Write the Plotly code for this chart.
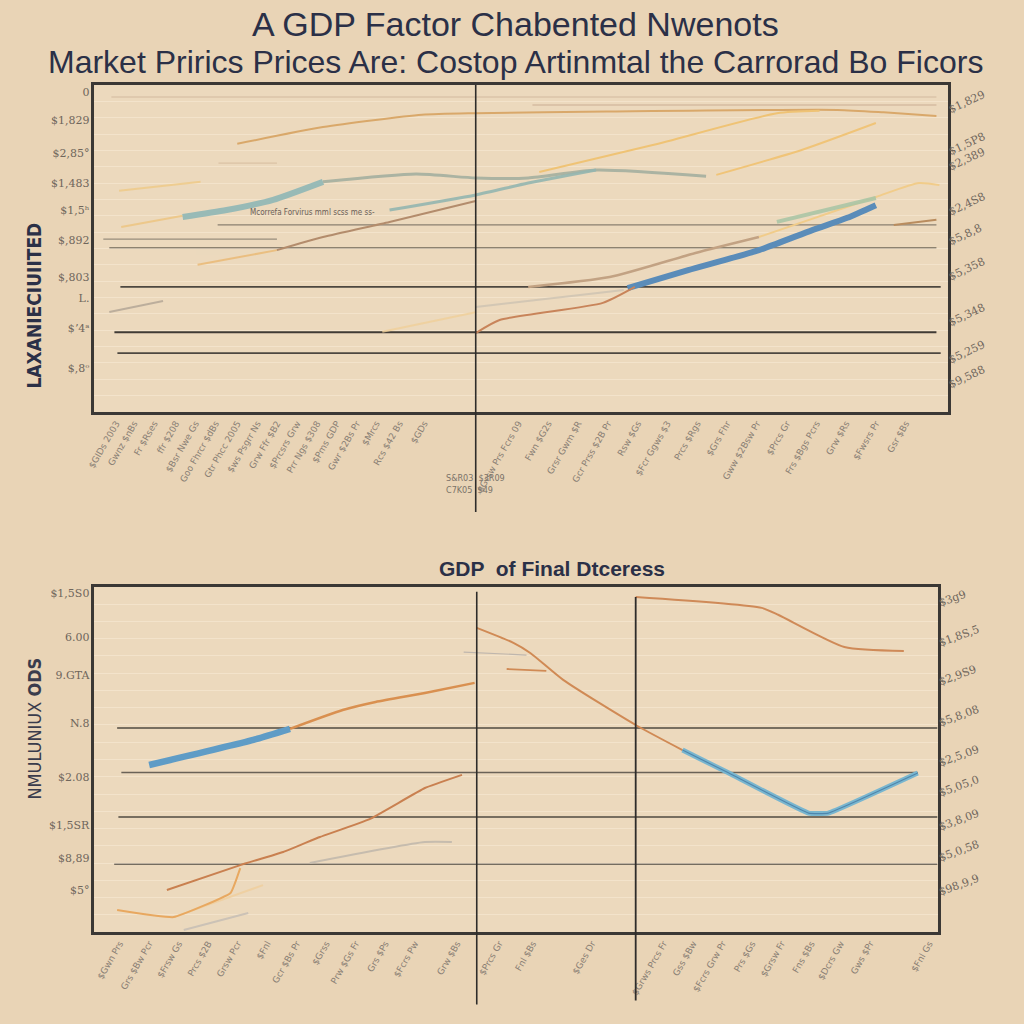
import plotly.graph_objects as go

BG = "#e9d4b6"
PLOT_BG = "#ecd9bd"
NAVY = "#2b3047"
TICK_C = "#6f665c"

# ---------------- top panel data (x: year offset, y: value) ----------------
t_gold_top_x = [3.35, 5.36, 7.68, 8.94, 12.0, 17.42, 18.5, 19.74]
t_gold_top_y = [656, 697, 727, 731, 735, 739, 733, 724]
t_faint_top_x = [10.27, 19.74]
t_faint_top_y = [751, 751]
t_yel_left_x = [0.58, 2.49]
t_yel_left_y = [541, 563]
t_faint2_x = [2.91, 4.28]
t_faint2_y = [609, 609]
t_teal_thick_x = [2.07, 3.1, 4.19, 5.36]
t_teal_thick_y = [477, 494, 519, 563]
t_graygreen_x = [5.36, 7.54, 8.94, 10.17, 11.76, 14.34]
t_graygreen_y = [563, 582, 572.5, 572.5, 592, 577]
t_yel2_x = [0.63, 2.07]
t_yel2_y = [452.6, 480]
t_teal_thin_x = [6.92, 8.94, 10.17, 11.76]
t_teal_thin_y = [494, 531, 560, 592]
t_brown_x = [4.28, 5.36, 6.92, 8.94]
t_brown_y = [396, 428, 465, 516]
t_yel3_x = [2.42, 4.28]
t_yel3_y = [360, 396]
t_gold1_x = [10.43, 13.09, 16.0, 17.0]
t_gold1_y = [587, 653, 731, 737]
t_gold2_x = [14.58, 16.58, 18.32]
t_gold2_y = [580, 641, 707]
t_blue_x = [12.5, 13.92, 15.58, 16.83, 17.65, 18.32]
t_blue_y = [303, 347, 396, 445, 475, 506]
t_tan_x = [10.17, 12.08, 14.09, 15.58]
t_tan_y = [306, 330, 389, 428]
t_yel_right_x = [15.58, 18.32, 19.33, 19.81]
t_yel_right_y = [428, 526, 560, 555]
t_green_x = [16.0, 18.32]
t_green_y = [465, 523.5]
t_orange_low_x = [8.94, 9.5, 11.92, 12.67]
t_orange_low_y = [193, 225, 267, 306]
t_faintgray_x = [8.94, 12.41]
t_faintgray_y = [257, 298.5]
t_faintyel_x = [6.75, 8.94]
t_faintyel_y = [196, 244]
t_brown_right_x = [18.74, 19.74]
t_brown_right_y = [457.5, 470]
t_gray_left_x = [0.35, 1.61]
t_gray_left_y = [244.7, 271.6]

top_hline_y = [770.6, 457.5, 423, 401, 306, 195, 144]
top_hline_x0 = [0.4, 2.89, 0.21, 0.35, 0.61, 0.47, 0.54]
top_hline_x1 = [19.74, 19.74, 4.28, 19.74, 19.84, 19.74, 19.84]
top_hline_color = ["#d2b99e", "#8a7f70", "#978c7c", "#6e6456", "#4d4740", "#403b36", "#4d4740"]
top_hline_width = [1, 1.2, 1.2, 1.6, 1.6, 1.8, 1.6]
top_vline_x = 8.94

top_left_tickvals = [783, 714, 634, 560, 494, 421, 330, 279, 205.5, 108]
top_left_ticktext = ["0", "$1,829", "$2,85°", "$1,483", "$1,5ʰ", "$,892", "$,803", "L.", "$ʼ4ᵃ", "$,8ᵒ"]
top_right_tickvals = [739, 636, 599, 489, 416, 330, 218, 127, 66]
top_right_ticktext = ["$1,829", "$1,5P8", "$2,389", "$2,4S8", "$5,8,8", "$5,358", "$5,348", "$5,259", "$9,588"]
top_x_tickvals = [0.51, 0.93, 1.40, 1.91, 2.37, 2.84, 3.35, 3.82, 4.28, 4.75, 5.22, 5.68, 6.15, 6.61, 7.15, 7.73,
                  9.94, 10.64, 11.34, 12.04, 12.74, 13.43, 14.13, 14.83, 15.53, 16.23, 16.93, 17.62, 18.32, 19.02]
top_x_ticktext = ["$GIDs 2003", "Gwnz $nBs", "Fr $Rses", "ffr $208", "$Bsr Nwe Gs", "Goo Fhrcr $dBs",
                  "Gtr Phcc 2005", "$ws Psgrr Ns", "Grw Ffr $B2", "$Prcsrs Grw", "Prr Ngs $308",
                  "$Pms GDP", "Gwr $2Bs Pr", "$Mrcs", "Rcs $42 Bs", "$GDs",
                  "$Grsw Prs Fcrs 09", "Fwn $G2s", "Grsr Gwm $R", "Gcr Prss $2B Pr", "Rsw $Gs",
                  "$Fcr Ggws $3", "Prcs $Rgs", "$Grs Fhr", "Gww $2Bsw Pr", "$Prcs Gr",
                  "Frs $Bgs Pcrs", "Grw $Rs", "$Fwsrs Pr", "Gsr $Bs"]

# ---------------- bottom panel data ----------------
b_blue_x = [1.30, 3.77, 4.64]
b_blue_y = [726, 835, 883]
b_orange_x = [4.64, 5.89, 6.67, 7.84, 9.02]
b_orange_y = [883, 965, 1000, 1039, 1083]
b_orange_low_x = [1.72, 3.46, 4.48, 5.35, 6.53, 7.84, 8.72]
b_orange_low_y = [183, 291, 348, 413, 491, 626, 683]
b_yelor_x = [0.54, 1.88, 3.23, 3.46]
b_yelor_y = [96, 65, 170, 278]
b_faintyel_x = [1.88, 4.00]
b_faintyel_y = [65, 204]
b_faintgray_x = [2.12, 3.65]
b_faintgray_y = [9, 83]
b_gray_x = [5.11, 7.84, 8.48]
b_gray_y = [300, 391, 391]
b_desc_x = [9.07, 9.94, 10.34, 11.12, 12.84, 13.95]
b_desc_y = [1322, 1257, 1213, 1096, 900, 791]
b_blue2_x = [13.95, 15.05, 16.94, 17.41, 19.53]
b_blue2_y = [791, 691, 517, 517, 691]
b_topright_x = [12.84, 15.83, 16.23, 17.79, 19.20]
b_topright_y = [1456.5, 1409, 1378, 1239, 1222]
b_faint3_x = [8.76, 10.25]
b_faint3_y = [1217, 1204]
b_short_x = [9.78, 10.72]
b_short_y = [1143.5, 1135]

bot_hline_y = [887, 693, 500, 295.6]
bot_hline_x0 = [0.54, 0.64, 0.57, 0.47]
bot_hline_x1 = [20.0, 19.53, 20.0, 20.0]
bot_hline_color = ["#514a42", "#6a6257", "#514a42", "#4d4740"]
bot_vline_x = [9.07, 12.84]

bot_left_tickvals = [1474, 1283, 1117, 909, 674, 465, 322, 183]
bot_left_ticktext = ["$1,5S0", "6.00", "9.GTA", "N.8", "$2.08", "$1,5SR", "$8,89", "$5°"]
bot_right_tickvals = [1430, 1256.5, 1087, 909, 735, 604, 456.5, 322, 174]
bot_right_ticktext = ["$3g9", "$1,8S,5", "$2,9S9", "$5,8,08", "$2,5,09", "$5,05,0", "$3,8,09", "$5,0,58", "$98,9,9"]
bot_x_tickvals = [0.6, 1.3, 2.0, 2.7, 3.4, 4.1, 4.8, 5.5, 6.2, 6.9, 7.6, 8.6,
                  9.6, 10.4, 11.8, 13.5, 14.2, 14.9, 15.6, 16.3, 17.0, 17.7, 18.4, 19.8]
bot_x_ticktext = ["$Gwn Prs", "Grs $Bw Pcr", "$Frsw Gs", "Prcs $2B", "Grsw Pcr", "$Fnl",
                  "Gcr $Bs Pr", "$Grss", "Prw $Gs Fr", "Grs $Ps", "$Fcrs Pw", "Grw $Bs",
                  "$Prcs Gr", "Fnl $Bs", "$Ges Dr", "$Grws Prcs Fr", "Gss $Bw",
                  "$Fcrs Grw Pr", "Prs $Gs", "$Grsw Fr", "Fns $Bs", "$Dcrs Gw", "Gws $Pr", "$Fnl Gs"]

top_note = "Mcorrefa Forvirus mml scss me ss-"
center_note = "S&R03  $3R09<br>C7K05  $49"

fig = go.Figure()

def add_line(x, y, color, width, xa="x", ya="y", opacity=1.0, smooth=0.6):
    fig.add_trace(go.Scatter(x=x, y=y, mode="lines", xaxis=xa, yaxis=ya,
                             line=dict(color=color, width=width, shape="spline", smoothing=smooth),
                             opacity=opacity, hoverinfo="skip", showlegend=False))

# top panel lines
add_line(t_faint_top_x, t_faint_top_y, "#c4a48a", 1.2, opacity=0.8)
add_line(t_faint2_x, t_faint2_y, "#d8bea0", 1.2, opacity=0.8)
add_line(t_gold_top_x, t_gold_top_y, "#d9a86a", 2)
add_line(t_yel_left_x, t_yel_left_y, "#efca85", 2, opacity=0.8)
add_line(t_yel2_x, t_yel2_y, "#eec47e", 2, opacity=0.8)
add_line(t_yel3_x, t_yel3_y, "#eab872", 2, opacity=0.8)
add_line(t_teal_thick_x, t_teal_thick_y, "#8fb7b6", 6, opacity=0.9)
add_line(t_graygreen_x, t_graygreen_y, "#abb3a2", 3)
add_line(t_teal_thin_x, t_teal_thin_y, "#94b6b0", 3, opacity=0.9)
add_line(t_brown_x, t_brown_y, "#b38c6c", 2)
add_line(t_gold1_x, t_gold1_y, "#efc375", 2)
add_line(t_gold2_x, t_gold2_y, "#f0c478", 2)
add_line(t_tan_x, t_tan_y, "#c2a283", 2.5)
add_line(t_yel_right_x, t_yel_right_y, "#f1cc8a", 2)
add_line(t_green_x, t_green_y, "#abc6a6", 4, opacity=0.9)
add_line(t_blue_x, t_blue_y, "#5a8cb9", 6)
add_line(t_orange_low_x, t_orange_low_y, "#c8845a", 2)
add_line(t_faintgray_x, t_faintgray_y, "#cdc3b3", 2, opacity=0.8)
add_line(t_faintyel_x, t_faintyel_y, "#f0d09a", 2, opacity=0.8)
add_line(t_brown_right_x, t_brown_right_y, "#b98c5e", 2)
add_line(t_gray_left_x, t_gray_left_y, "#bcae9c", 2)

# bottom panel lines
add_line(b_faintgray_x, b_faintgray_y, "#c8bfb5", 2, "x2", "y2", 0.9)
add_line(b_faintyel_x, b_faintyel_y, "#f0d0a0", 2, "x2", "y2", 0.9)
add_line(b_yelor_x, b_yelor_y, "#e8a860", 2, "x2", "y2", smooth=0.3)
add_line(b_orange_low_x, b_orange_low_y, "#c98050", 2, "x2", "y2", smooth=0.3)
add_line(b_gray_x, b_gray_y, "#c6bcae", 2, "x2", "y2")
add_line(b_orange_x, b_orange_y, "#d99050", 2.5, "x2", "y2")
add_line(b_blue_x, b_blue_y, "#5f9cc6", 6.5, "x2", "y2")
add_line(b_faint3_x, b_faint3_y, "#bfb6ad", 1.2, "x2", "y2")
add_line(b_short_x, b_short_y, "#d08a55", 1.8, "x2", "y2")
add_line(b_desc_x, b_desc_y, "#d08a55", 2, "x2", "y2")
add_line(b_blue2_x, b_blue2_y, "#79b6cf", 5, "x2", "y2", smooth=0.3)
add_line(b_blue2_x, b_blue2_y, "#4f86ad", 1.2, "x2", "y2", smooth=0.3)
add_line(b_topright_x, b_topright_y, "#cf8a58", 2, "x2", "y2")

# right-side label axes need a trace each
fig.add_trace(go.Scatter(x=[None], y=[None], xaxis="x", yaxis="y3", showlegend=False))
fig.add_trace(go.Scatter(x=[None], y=[None], xaxis="x2", yaxis="y4", showlegend=False))

shapes = []
for yv, x0, x1, c, w in zip(top_hline_y, top_hline_x0, top_hline_x1, top_hline_color, top_hline_width):
    shapes.append(dict(type="line", xref="x", yref="y", x0=x0, x1=x1, y0=yv, y1=yv,
                       line=dict(color=c, width=w), layer="below"))
for yv, x0, x1, c in zip(bot_hline_y, bot_hline_x0, bot_hline_x1, bot_hline_color):
    shapes.append(dict(type="line", xref="x2", yref="y2", x0=x0, x1=x1, y0=yv, y1=yv,
                       line=dict(color=c, width=1.5), layer="below"))
shapes.append(dict(type="line", xref="x", yref="paper", x0=top_vline_x, x1=top_vline_x,
                   y0=0.5, y1=0.917, line=dict(color="#2e2c2a", width=1.6)))
shapes.append(dict(type="line", xref="x2", yref="paper", x0=bot_vline_x[0], x1=bot_vline_x[0],
                   y0=0.019, y1=0.422, line=dict(color="#2e2c2a", width=1.6)))
shapes.append(dict(type="line", xref="x2", yref="paper", x0=bot_vline_x[1], x1=bot_vline_x[1],
                   y0=0.023, y1=0.417, line=dict(color="#2e2c2a", width=1.8)))

FRAME = "#3b3835"
tickfont = dict(family="DejaVu Serif", size=11, color=TICK_C)
xtickfont = dict(family="DejaVu Sans", size=9, color="#8a8075")

fig.update_layout(
    width=1024, height=1024, autosize=False,
    margin=dict(l=0, r=0, t=0, b=0),
    paper_bgcolor=BG, plot_bgcolor=PLOT_BG,
    showlegend=False,
    shapes=shapes,
    xaxis=dict(domain=[0.0859, 0.9248], range=[0, 20], showgrid=False, zeroline=False,
               showline=True, mirror=True, linecolor=FRAME, linewidth=2.5,
               tickmode="array", tickvals=top_x_tickvals, ticktext=top_x_ticktext,
               tickangle=-60, tickfont=xtickfont, ticks=""),
    yaxis=dict(domain=[0.5977, 0.9170], range=[0, 800], showgrid=False, zeroline=False,
               showline=True, mirror=True, linecolor=FRAME, linewidth=2.5,
               tickmode="array", tickvals=top_left_tickvals, ticktext=top_left_ticktext,
               tickfont=tickfont, ticks="",
               minor=dict(tickmode="linear", tick0=0, dtick=40, showgrid=True,
                          gridcolor="rgba(250,235,215,0.55)", gridwidth=1, ticks="")),
    yaxis3=dict(overlaying="y", side="right", anchor="x", range=[0, 800], showgrid=False,
                zeroline=False, showline=False, tickmode="array", tickvals=top_right_tickvals,
                ticktext=top_right_ticktext, tickangle=-25, tickfont=tickfont, ticks=""),
    xaxis2=dict(domain=[0.0859, 0.9150], range=[0, 20], showgrid=False, zeroline=False,
                showline=True, mirror=True, linecolor=FRAME, linewidth=2.5, anchor="y2",
                tickmode="array", tickvals=bot_x_tickvals, ticktext=bot_x_ticktext,
                tickangle=-60, tickfont=xtickfont, ticks=""),
    yaxis2=dict(domain=[0.0898, 0.4268], range=[0, 1500], showgrid=False, zeroline=False,
                showline=True, mirror=True, linecolor=FRAME, linewidth=2.5, anchor="x2",
                tickmode="array", tickvals=bot_left_tickvals, ticktext=bot_left_ticktext,
                tickfont=tickfont, ticks="",
                minor=dict(tickmode="linear", tick0=0, dtick=75, showgrid=True,
                           gridcolor="rgba(250,235,215,0.55)", gridwidth=1, ticks="")),
    yaxis4=dict(overlaying="y2", side="right", anchor="x2", range=[0, 1500], showgrid=False,
                zeroline=False, showline=False, tickmode="array", tickvals=bot_right_tickvals,
                ticktext=bot_right_ticktext, tickangle=-20, tickfont=tickfont, ticks=""),
)

title_font = "Liberation Sans"
fig.add_annotation(text="A GDP Factor Chabented Nwenots", xref="paper", yref="paper",
                   x=0.5, y=0.977, showarrow=False, xanchor="center", yanchor="middle",
                   font=dict(family=title_font, size=34, color=NAVY))
fig.add_annotation(text="Market Prirics Prices Are: Costop Artinmtal the Carrorad Bo Ficors",
                   xref="paper", yref="paper", x=0.5, y=0.9395, showarrow=False,
                   xanchor="center", yanchor="middle",
                   font=dict(family=title_font, size=32, color=NAVY))
fig.add_annotation(text="<b>GDP  of Final Dtceress</b>", xref="paper", yref="paper",
                   x=0.536, y=0.4453, showarrow=False, xanchor="center", yanchor="middle",
                   font=dict(family=title_font, size=21, color=NAVY))
fig.add_annotation(text="<b>LAXANIECIUIITED</b>", xref="paper", yref="paper",
                   x=0.027, y=0.702, showarrow=False, textangle=-90,
                   xanchor="center", yanchor="middle",
                   font=dict(family="DejaVu Sans Condensed, DejaVu Sans", size=19, color=NAVY))
fig.add_annotation(text="NMULUNIUX <b>ODS</b>", xref="paper", yref="paper",
                   x=0.027, y=0.289, showarrow=False, textangle=-90,
                   xanchor="center", yanchor="middle",
                   font=dict(family="DejaVu Sans Condensed, DejaVu Sans", size=18, color="#3a3c4c"))
fig.add_annotation(text=top_note, xref="x", yref="y", x=5.12, y=487, showarrow=False,
                   font=dict(family="DejaVu Sans Condensed, DejaVu Sans", size=8, color="#6a6058"))
fig.add_annotation(text=center_note, xref="paper", yref="paper", x=0.461, y=0.527,
                   showarrow=False, align="left", xanchor="center", yanchor="middle",
                   font=dict(family="DejaVu Sans Condensed, DejaVu Sans", size=9, color="#7a7268"))

fig.write_html("out.html", config={"displayModeBar": False},
               post_script="document.body.style.margin='0px';document.body.style.overflow='hidden';")
